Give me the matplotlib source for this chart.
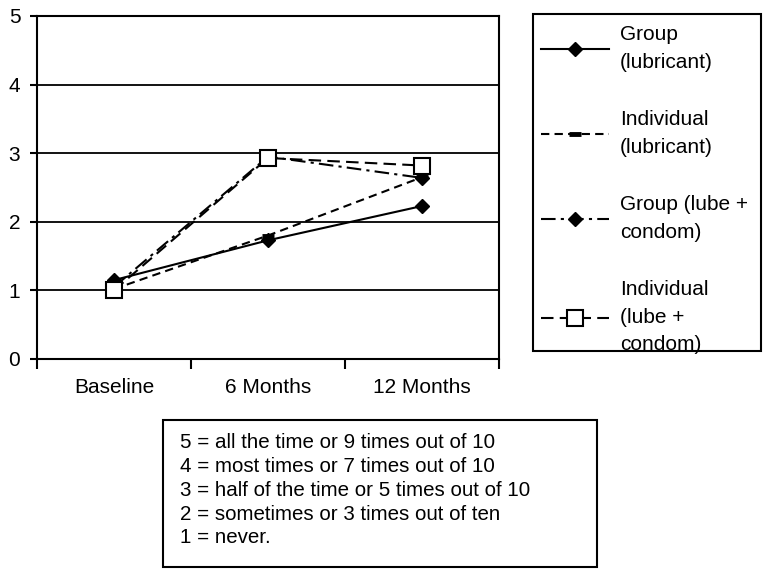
import numpy as np
import matplotlib.pyplot as plt
from matplotlib.patches import Rectangle

plt.rcParams['font.family'] = ['Liberation Sans', 'DejaVu Sans']

# categories and series values
periods = ['Baseline', '6 Months', '12 Months']
group_lub = [1.15, 1.73, 2.23]
indiv_lub = [1.02, 1.80, 2.65]
group_lc = [1.05, 2.95, 2.64]
indiv_lc = [1.00, 2.93, 2.82]

series_labels = ['Group\n(lubricant)', 'Individual\n(lubricant)',
                 'Group (lube +\ncondom)', 'Individual\n(lube +\ncondom)']
key_lines = ['5 = all the time or 9 times out of 10',
             '4 = most times or 7 times out of 10',
             '3 = half of the time or 5 times out of 10',
             '2 = sometimes or 3 times out of ten',
             '1 = never.']

W, H = 769, 575
fig = plt.figure(figsize=(W / 100, H / 100), dpi=100)
ax = fig.add_axes([37 / W, 1 - 359 / H, 462 / W, 343 / H])

x = np.arange(len(periods))
ax.plot(x, group_lub, color='black', lw=1.5, ls='-', marker='D', ms=7,
        label=series_labels[0])
ax.plot(x, indiv_lub, color='black', lw=1.5, ls=(0, (4, 2.5)), marker='_',
        ms=8, mew=3.5, label=series_labels[1])
ax.plot(x, group_lc, color='black', lw=1.5, ls=(0, (7, 2.5, 1.5, 2.5)),
        marker='D', ms=7, label=series_labels[2])
ax.plot(x, indiv_lc, color='black', lw=1.5, ls=(0, (6, 3)), marker='s',
        ms=12, mfc='white', mec='black', mew=1.5, label=series_labels[3])

ax.set_xlim(-0.5, 2.5)
ax.set_ylim(0, 5)
ax.set_yticks([0, 1, 2, 3, 4, 5])
ax.yaxis.grid(True, color='black', lw=1.3)
ax.set_axisbelow(True)
ax.set_xticks([-0.5, 0.5, 1.5, 2.5])
ax.set_xticklabels([])
ax.set_xticks(x, minor=True)
ax.set_xticklabels(periods, minor=True, fontsize=15)
ax.tick_params(axis='x', which='minor', length=0, pad=14)
ax.tick_params(axis='x', which='major', length=7, width=1.5, direction='out')
ax.tick_params(axis='y', length=5, width=1.5, direction='out', labelsize=15, pad=7)
for s in ax.spines.values():
    s.set_linewidth(1.5)

# legend box
fig.patches.append(Rectangle((533 / W, 1 - 351 / H), 228 / W, 337 / H,
                             transform=fig.transFigure, fill=False,
                             ec='black', lw=1.5))
leg = fig.legend(loc='upper left', bbox_to_anchor=(541 / W, 1 - 25 / H),
                 frameon=False, fontsize=15, handlelength=3.25,
                 handletextpad=0.55, labelspacing=1.84, borderaxespad=0,
                 borderpad=0)
for t in leg.get_texts():
    t.set_linespacing(1.58)

# key box
fig.patches.append(Rectangle((163 / W, 1 - 567 / H), 434 / W, 147 / H,
                             transform=fig.transFigure, fill=False,
                             ec='black', lw=1.5))
for i, line in enumerate(key_lines):
    fig.text(180 / W, 1 - (443 + 23.7 * i) / H, line, fontsize=14.8,
             va='center', ha='left')

fig.savefig('out.png', dpi=100)
